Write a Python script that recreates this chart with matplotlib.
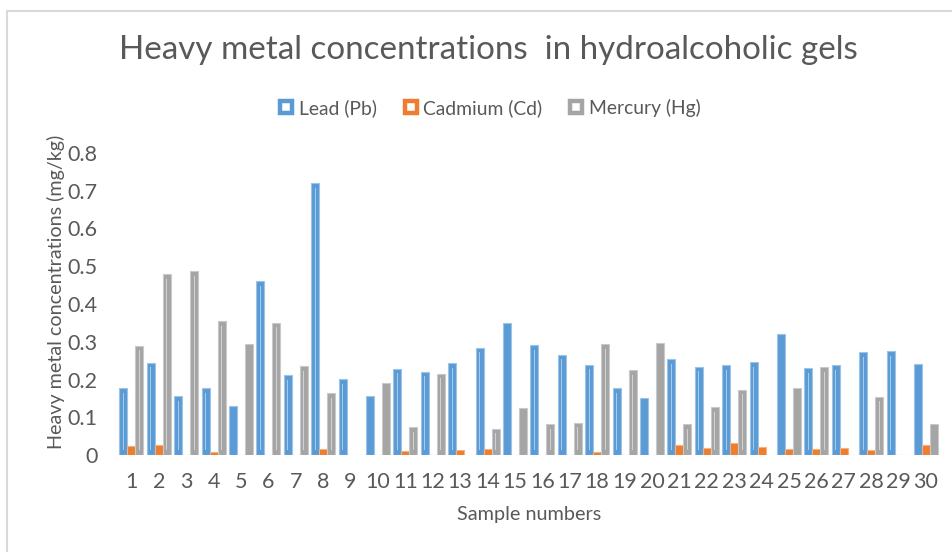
import numpy as np
import matplotlib
matplotlib.use("Agg")
import matplotlib.pyplot as plt
from matplotlib.lines import Line2D
from matplotlib.patches import Rectangle

plt.rcParams['font.family'] = ['Lato', 'DejaVu Sans']

# data (mg/kg)
samples = [str(i) for i in range(1, 31)]
lead = [0.177, 0.245, 0.155, 0.177, 0.129, 0.461, 0.211, 0.720, 0.201, 0.157,
        0.228, 0.220, 0.243, 0.284, 0.349, 0.291, 0.265, 0.239, 0.177, 0.151,
        0.254, 0.234, 0.238, 0.246, 0.321, 0.230, 0.238, 0.272, 0.275, 0.241]
cadmium = [0.024, 0.026, 0.0, 0.009, 0.0, 0.0, 0.0, 0.017, 0.0, 0.0,
           0.011, 0.0, 0.013, 0.017, 0.0, 0.0, 0.0, 0.009, 0.0, 0.0,
           0.027, 0.019, 0.031, 0.020, 0.016, 0.015, 0.018, 0.014, 0.0, 0.026]
mercury = [0.289, 0.479, 0.487, 0.355, 0.295, 0.350, 0.235, 0.164, 0.0, 0.190,
           0.073, 0.215, 0.0, 0.070, 0.125, 0.082, 0.086, 0.294, 0.224, 0.297,
           0.081, 0.127, 0.173, 0.0, 0.177, 0.233, 0.0, 0.154, 0.0, 0.082]
series_names = ['Lead (Pb)', 'Cadmium (Cd)', 'Mercury (Hg)']

colors = ['#5B9BD5', '#ED7D31', '#A5A5A5']
edges = ['#9DC3E6', '#F4B183', '#C9C9C9']
shine = ['#A9CBEB', '#F6BE98', '#D2D2D2']
txt = '#595959'

W, H = 953, 552
fig = plt.figure(figsize=(W / 100, H / 100), dpi=100)
ax = fig.add_axes([117.6 / W, 1 - 455 / H, (939.7 - 117.6) / W, (455 - 153) / H])

x = np.arange(len(samples))
bw = 0.292
for k, vals in enumerate([lead, cadmium, mercury]):
    vals = np.array(vals)
    pos = x + (k - 1) * bw
    ax.bar(pos, vals, width=bw, color=colors[k], edgecolor=edges[k], linewidth=0.8, zorder=2)
    # thin light streak inside each bar (excel gradient look)
    m = vals > 0.05
    ax.bar(pos[m], vals[m] - 0.024, bottom=0.012, width=0.03, color=shine[k],
           linewidth=0, zorder=3)

ax.set_xlim(-0.5, len(samples) - 0.5)
ax.set_ylim(0, 0.8)
ax.set_yticks(np.arange(0, 0.81, 0.1))
ax.set_yticklabels(['0'] + ['%.1f' % v for v in np.arange(0.1, 0.81, 0.1)])
ax.set_xticks(x)
ax.set_xticklabels(samples)
ax.tick_params(axis='both', length=0, labelsize=15.5, colors=txt)
ax.tick_params(axis='y', pad=14.5)
ax.tick_params(axis='x', pad=12)
for s in ax.spines.values():
    s.set_visible(False)

ax.set_xlabel('Sample numbers', fontsize=14.3, color=txt)
ax.set_ylabel('Heavy metal concentrations (mg/kg)', fontsize=14.2, color=txt)
ax.yaxis.set_label_coords(-(117.6 - 65) / 822.1, (455 - 291.5) / 302)
ax.xaxis.set_label_coords((529.5 - 117.6) / 822.1, -(506 - 455) / 302)

fig.text(488 / W, 1 - 50 / H, 'Heavy metal concentrations  in hydroalcoholic gels',
         ha='center', va='center', fontsize=23.9, color=txt)

handles = [Line2D([], [], ls='none', marker='s', markersize=8.3, markerfacecolor='white',
                  markeredgecolor=c, markeredgewidth=3.2) for c in colors]
fig.legend(handles, series_names, loc='center', bbox_to_anchor=(489 / W, 1 - 108 / H),
           ncol=3, frameon=False, fontsize=13.9, labelcolor=txt, handlelength=0.9,
           handletextpad=0.2, columnspacing=1.3)

# chart area border
fig.add_artist(Rectangle((7 / W, -0.1), 1.2, 1 - 11 / H + 0.1, transform=fig.transFigure,
                         fill=False, edgecolor='#D9D9D9', linewidth=1.5))

fig.savefig('out.png', dpi=100)
